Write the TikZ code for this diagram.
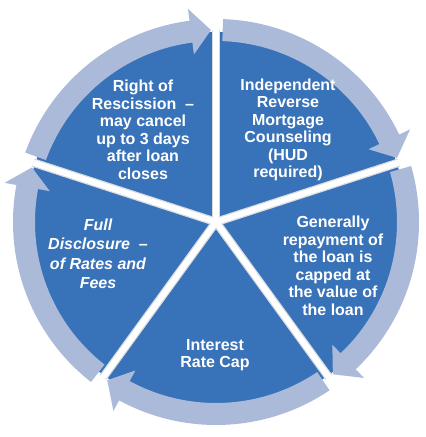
\documentclass[tikz,border=0pt]{standalone}
\usepackage{fontspec}
\setmainfont{Liberation Sans}
\begin{document}
\begin{tikzpicture}[x=1pt,y=1pt]
\definecolor{segblue}{RGB}{56,114,184}
\definecolor{arrowblue}{RGB}{170,186,216}
\definecolor{gapshade}{RGB}{215,218,224}
\tikzset{
  segfill/.style={fill=segblue, draw=none},
  gapshadow/.style={draw=gapshade, line width=8.5pt},
  gapline/.style={draw=white, line width=6pt},
  ringarrow/.style={fill=arrowblue, draw=none},
  segtext/.style={text=white, font=\bfseries\fontsize{16}{17.5}\selectfont, align=center, inner sep=0pt},
}
\useasboundingbox (0,0) rectangle (426,437);
\fill[white] (0,0) rectangle (426,437);
\begin{scope}[shift={(216,215)}]
  \coordinate (c) at (0,0);
  % pie
  \fill[segfill] (c) circle (190pt);
  % gaps
  \foreach \a in {90,18,-54,-126,162}{
    \draw[gapshadow] (c) -- (\a:192pt);
  }
  \foreach \a in {90,18,-54,-126,162}{
    \draw[gapline] (c) -- (\a:192pt);
  }
  % ring arrows (tail angle / tip angle), clockwise
  \foreach \ta/\tp in {160/91.5, 88/19.5, 16/-52.5, -56/-124.5, 232/163.5}{
    \pgfmathsetmacro\hb{\tp+6}
    \fill[ringarrow] (\ta:203pt) arc[start angle=\ta, end angle=\hb, radius=203pt]
      -- (\hb:215pt) -- (\tp:192pt) -- (\hb:169pt) -- (\hb:181pt)
      arc[start angle=\hb, end angle=\ta, radius=181pt] -- cycle;
  }
\end{scope}
% texts
\node[segtext] (rescission) at (143,307) {Right of\\Rescission~~--\\may cancel\\up to 3 days\\after loan\\closes};
\node[segtext] (counseling) at (288,307) {Independent\\Reverse\\Mortgage\\Counseling\\(HUD\\required)};
\node[segtext] (repayment) at (333,171) {Generally\\repayment of\\the loan is\\capped at\\the value of\\the loan};
\node[segtext] (ratecap) at (215,82) {Interest\\Rate Cap};
\node[segtext, font=\bfseries\itshape\fontsize{16}{19.5}\selectfont] (disclosure) at (98,183) {Full\\Disclosure~~--\\of Rates and\\Fees};
\end{tikzpicture}
\end{document}
